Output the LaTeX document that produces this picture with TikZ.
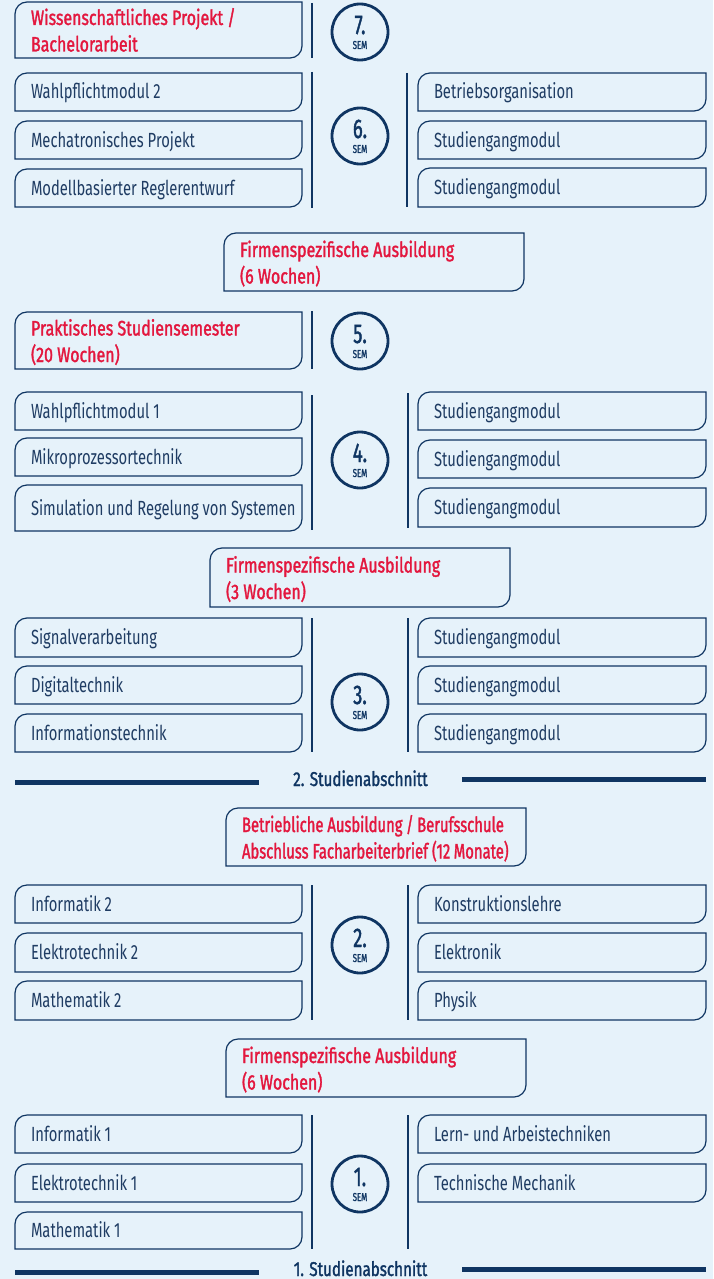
\documentclass[tikz,border=0pt]{standalone}
\usepackage{fontspec}
\setmainfont{Fira Sans}[FakeStretch=0.72]
\newfontfamily\medfont{Fira Sans}[FakeStretch=0.76, FakeBold=1.5]
\newfontfamily\narrowfont{Fira Sans}[FakeStretch=0.705, FakeBold=1.5]
\newfontfamily\numfont{Fira Sans}[FakeStretch=0.68, FakeBold=1.5]
\usetikzlibrary{fit}
\definecolor{bg}{HTML}{E6F2FA}
\definecolor{navy}{HTML}{0F3562}
\definecolor{txt}{HTML}{1F3C63}
\definecolor{hsred}{HTML}{E3173E}
\newcommand\twol[2]{\vtop{\hbox{#1}\hbox{#2}}}
\tikzset{
  frame/.style={inner sep=0pt, outer sep=0pt, draw=none},
  boxline/.style={draw=navy, line width=1.2pt},
  one/.style={inner sep=0pt, outer sep=0pt, text=txt, font=\fontsize{20.5}{26}\selectfont, anchor=base west, yshift=-7pt},
  two/.style={inner sep=0pt, outer sep=0pt, text=hsred, font=\medfont\fontsize{21}{26.5}\selectfont, anchor=base west, yshift=5pt},
  twonarrow/.style={two, font=\narrowfont\fontsize{21}{26.5}\selectfont},
  semc/.style={circle, draw=navy, line width=2.8pt, minimum size=56pt, inner sep=0pt},
  numf/.style={inner sep=0pt, text=navy, font=\numfont\fontsize{27}{27}\selectfont, anchor=base},
  semf/.style={inner sep=0pt, text=navy, font=\numfont\fontsize{11.5}{11.5}\selectfont, anchor=base},
  vline/.style={draw=navy, line width=1.2pt},
  bar/.style={draw=navy, line width=5pt},
  sepf/.style={inner sep=0pt, text=navy, font=\medfont\fontsize{20}{20}\selectfont, anchor=base},
}
% name, x1, y1, x2, y2, label style, text
\newcommand\modbox[7]{%
  \path (#2,-#3) coordinate (#1nw) (#4,-#5) coordinate (#1se);
  \node[frame, fit=(#1nw)(#1se)] (#1) {};
  \draw[boxline] (#1.south west) -- ([yshift=-12pt]#1.north west)
     arc[start angle=180, end angle=90, radius=12pt] -- (#1.north east)
     -- ([yshift=12pt]#1.south east)
     arc[start angle=0, end angle=-90, radius=12pt] -- cycle;
  \node[#6] (#1t) at ([xshift=16pt]#1.west) {#7};
}
\newcommand\semcircle[3]{%
  \node[semc] (#1) at (360,-#2) {};
  \node[numf] (#1n) at ([yshift=-2pt]#1.center) {#3.};
  \node[semf] (#1s) at ([yshift=-17pt]#1.center) {SEM};
}
\begin{document}
\begin{tikzpicture}[x=1pt,y=1pt]
\fill[bg] (0,0) rectangle (713,-1279);
\useasboundingbox (0,0) rectangle (713,-1279);

% ---- Semester 7
\modbox{Lsieben}{15}{2}{302}{58}{two}{\twol{Wissenschaftliches Projekt /}{Bachelorarbeit}}
\draw[vline] (312,-3) -- (312,-58);
\semcircle{csieben}{32}{7}

% ---- Semester 6
\modbox{Lsechsa}{15}{73}{302}{111}{one}{Wahlpflichtmodul 2}
\modbox{Lsechsb}{15}{121}{302}{159}{one}{Mechatronisches Projekt}
\modbox{Lsechsc}{15}{169}{302}{207}{one}{Modellbasierter Reglerentwurf}
\modbox{Rsechsa}{418}{73}{706}{111}{one}{Betriebsorganisation}
\modbox{Rsechsb}{418}{121}{706}{159}{one}{Studiengangmodul}
\modbox{Rsechsc}{418}{168}{706}{207}{one}{Studiengangmodul}
\draw[vline] (312,-72) -- (312,-208);
\draw[vline] (407,-73) -- (407,-207);
\semcircle{csechs}{136}{6}

\modbox{Feins}{224}{233}{524}{291}{two}{\twol{Firmenspezifische Ausbildung}{(6 Wochen)}}

% ---- Semester 5
\modbox{Lfuenf}{15}{312}{302}{369}{two}{\twol{Praktisches Studiensemester}{(20 Wochen)}}
\draw[vline] (312,-311) -- (312,-369);
\semcircle{cfuenf}{341}{5}

% ---- Semester 4
\modbox{Lviera}{15}{392}{302}{430}{one}{Wahlpflichtmodul 1}
\modbox{Lvierb}{15}{438}{302}{476}{one}{Mikroprozessortechnik}
\modbox{Lvierc}{15}{485}{302}{531}{one}{Simulation und Regelung von Systemen}
\modbox{Rviera}{418}{392}{706}{430}{one}{Studiengangmodul}
\modbox{Rvierb}{418}{440}{706}{478}{one}{Studiengangmodul}
\modbox{Rvierc}{418}{488}{706}{527}{one}{Studiengangmodul}
\draw[vline] (312,-395) -- (312,-530);
\draw[vline] (408,-393) -- (408,-528);
\semcircle{cvier}{460}{4}

\modbox{Fzwei}{210}{548}{510}{607}{two}{\twol{Firmenspezifische Ausbildung}{(3 Wochen)}}

% ---- Semester 3
\modbox{Ldreia}{15}{618}{302}{657}{one}{Signalverarbeitung}
\modbox{Ldreib}{15}{666}{302}{704}{one}{Digitaltechnik}
\modbox{Ldreic}{15}{714}{302}{752}{one}{Informationstechnik}
\modbox{Rdreia}{418}{618}{706}{657}{one}{Studiengangmodul}
\modbox{Rdreib}{418}{666}{706}{704}{one}{Studiengangmodul}
\modbox{Rdreic}{418}{714}{706}{752}{one}{Studiengangmodul}
\draw[vline] (312,-618) -- (312,-752);
\draw[vline] (408,-618) -- (408,-752);
\semcircle{cdrei}{702}{3}

% ---- separator 2
\draw[bar] (15,-782) -- (259,-782);
\draw[bar] (462,-779) -- (706,-779);
\node[sepf] (septwo) at (360.5,-786) {2. Studienabschnitt};

\modbox{Betr}{226}{808}{526}{866}{twonarrow}{\twol{Betriebliche Ausbildung\,/\,Berufsschule}{Abschluss Facharbeiterbrief (12\,Monate)}}

% ---- Semester 2
\modbox{Lzweia}{15}{885}{302}{923}{one}{Informatik 2}
\modbox{Lzweib}{15}{933}{302}{972}{one}{Elektrotechnik 2}
\modbox{Lzweic}{15}{981}{302}{1020}{one}{Mathematik 2}
\modbox{Rzweia}{418}{885}{706}{923}{one}{Konstruktionslehre}
\modbox{Rzweib}{418}{933}{706}{972}{one}{Elektronik}
\modbox{Rzweic}{418}{981}{706}{1020}{one}{Physik}
\draw[vline] (312,-885) -- (312,-1020);
\draw[vline] (408,-885) -- (408,-1020);
\semcircle{czwei}{945}{2}

\modbox{Fdrei}{226}{1039}{526}{1097}{two}{\twol{Firmenspezifische Ausbildung}{(6 Wochen)}}

% ---- Semester 1
\modbox{Leinsa}{15}{1115}{302}{1153}{one}{Informatik 1}
\modbox{Leinsb}{15}{1164}{302}{1202}{one}{Elektrotechnik 1}
\modbox{Leinsc}{15}{1212}{302}{1249}{one}{Mathematik 1}
\modbox{Reinsa}{418}{1115}{706}{1153}{one}{Lern- und Arbeistechniken}
\modbox{Reinsb}{418}{1164}{706}{1202}{one}{Technische Mechanik}
\draw[vline] (312,-1115) -- (312,-1249);
\draw[vline] (408,-1115) -- (408,-1249);
\semcircle{ceins}{1184}{1}

% ---- separator 1
\draw[bar] (15,-1272) -- (259,-1272);
\draw[bar] (462,-1269) -- (706,-1269);
\node[sepf] (sepeins) at (360.5,-1276) {1. Studienabschnitt};
\end{tikzpicture}
\end{document}
